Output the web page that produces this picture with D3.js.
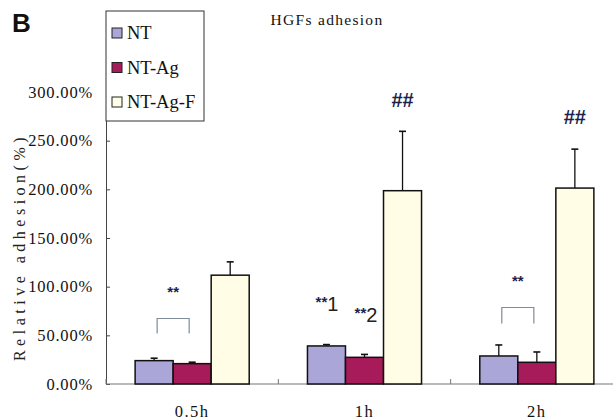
<!DOCTYPE html>
<html lang="en">
<head>
<meta charset="UTF-8">
<script src="https://d3js.org/d3.v7.min.js"></script>
<style>
    body { margin: 0; background: #fff; }
    svg { display: block; }
    .serif { font-family: "Liberation Serif", "DejaVu Serif", serif; }
    .sans { font-family: "Liberation Sans", Arial, sans-serif; }
</style>
<title>HGFs adhesion</title>
</head>
<body>
<div id="chart"></div>
<script>
    // data
    const categories = ["0.5h", "1h", "2h"];
    const seriesNames = ["NT", "NT-Ag", "NT-Ag-F"];
    const seriesColors = ["#aaa6d8", "#a81b5a", "#fffde6"];
    const values = [
        [24.0, 20.9, 111.8],   // 0.5h
        [39.1, 27.4, 198.6],   // 1h
        [28.8, 22.3, 201.3]    // 2h
    ];
    const errors = [
        [2.5, 1.5, 13.7],
        [1.4, 3.0, 61.0],
        [11.3, 10.6, 40.0]
    ];
    const yTicks = [0, 50, 100, 150, 200, 250, 300];

    const width = 613, height = 420;
    const svg = d3.select("#chart").append("svg")
        .attr("width", width)
        .attr("height", height);

    // scales
    const x0 = d3.scaleBand()
        .domain(categories)
        .range([106, 623])
        .paddingInner(0.338)
        .paddingOuter(0.169);

    const x1 = d3.scaleBand()
        .domain(seriesNames)
        .range([0, x0.bandwidth()]);

    const y = d3.scaleLinear()
        .domain([0, 300])
        .range([384, 92]);

    // y axis
    const yAxis = d3.axisLeft(y)
        .tickValues(yTicks)
        .tickSizeInner(-4)
        .tickSizeOuter(0)
        .tickPadding(13)
        .tickFormat(d => d.toFixed(2) + "%");

    const gy = svg.append("g")
        .attr("transform", "translate(106,0)")
        .call(yAxis);
    gy.select(".domain").attr("stroke", "#444");
    gy.selectAll(".tick line").attr("stroke", "#444");
    gy.selectAll(".tick text")
        .attr("class", "serif")
        .attr("font-size", 16.5)
        .attr("letter-spacing", 0.8)
        .attr("fill", "#111");

    // x axis line + boundary ticks
    svg.append("line")
        .attr("x1", 106).attr("x2", 623)
        .attr("y1", y(0)).attr("y2", y(0))
        .attr("stroke", "#777").attr("stroke-width", 1.2);

    const step = x0.step();
    svg.selectAll(".xtick")
        .data(categories)
        .enter().append("line")
        .attr("class", "xtick")
        .attr("x1", d => x0(d) - x0.paddingOuter() * step)
        .attr("x2", d => x0(d) - x0.paddingOuter() * step)
        .attr("y1", y(0)).attr("y2", y(0) - 5)
        .attr("stroke", "#777");

    svg.selectAll(".xlabel")
        .data(categories)
        .enter().append("text")
        .attr("class", "serif")
        .attr("x", d => x0(d) + x0.bandwidth() / 2)
        .attr("y", 417)
        .attr("text-anchor", "middle")
        .attr("font-size", 16.5)
        .attr("letter-spacing", 1.5)
        .attr("fill", "#111")
        .text(d => d);

    // bars
    const group = svg.selectAll(".group")
        .data(categories)
        .enter().append("g")
        .attr("class", "group")
        .attr("transform", d => "translate(" + x0(d) + ",0)");

    group.selectAll("rect")
        .data((d, i) => seriesNames.map((s, j) => ({s: s, j: j, v: values[i][j], e: errors[i][j]})))
        .enter().append("rect")
        .attr("x", d => x1(d.s))
        .attr("y", d => y(d.v))
        .attr("width", x1.bandwidth())
        .attr("height", d => y(0) - y(d.v))
        .attr("fill", d => seriesColors[d.j])
        .attr("stroke", "#111")
        .attr("stroke-width", 1.5);

    // error bars
    const err = group.selectAll(".err")
        .data((d, i) => seriesNames.map((s, j) => ({s: s, v: values[i][j], e: errors[i][j]})))
        .enter().append("g")
        .attr("class", "err");
    err.append("line")
        .attr("x1", d => x1(d.s) + x1.bandwidth() / 2)
        .attr("x2", d => x1(d.s) + x1.bandwidth() / 2)
        .attr("y1", d => y(d.v))
        .attr("y2", d => y(d.v + d.e))
        .attr("stroke", "#111").attr("stroke-width", 1.3);
    err.append("line")
        .attr("x1", d => x1(d.s) + x1.bandwidth() / 2 - 3.5)
        .attr("x2", d => x1(d.s) + x1.bandwidth() / 2 + 3.5)
        .attr("y1", d => y(d.v + d.e))
        .attr("y2", d => y(d.v + d.e))
        .attr("stroke", "#111").attr("stroke-width", 1.6);

    // significance marks
    const navy = "#1d1f4e";
    function bracket(cat, top, legs) {
        const xa = x0(cat) + x1("NT") + x1.bandwidth() / 2 + 3;
        const xb = x0(cat) + x1("NT-Ag") + x1.bandwidth() / 2 - 3;
        svg.append("path")
            .attr("d", "M" + xa + "," + (top + legs) + "V" + top + "H" + xb + "V" + (top + legs))
            .attr("fill", "none")
            .attr("stroke", "#7f8c9c")
            .attr("stroke-width", 1.2);
        svg.append("text")
            .attr("class", "sans")
            .attr("x", (xa + xb) / 2)
            .attr("y", top - 22)
            .attr("text-anchor", "middle")
            .attr("font-size", 15)
            .attr("font-weight", "bold")
            .attr("fill", navy)
            .text("**");
    }
    bracket("0.5h", 318.5, 15);
    bracket("2h", 307.5, 16);

    function hashes(cat, yy) {
        svg.append("text")
            .attr("class", "sans")
            .attr("x", x0(cat) + x1("NT-Ag-F") + x1.bandwidth() / 2)
            .attr("y", yy)
            .attr("text-anchor", "middle")
            .attr("font-size", 20)
            .attr("font-weight", "bold")
            .attr("fill", navy)
            .text("##");
    }
    hashes("1h", 107);
    hashes("2h", 124);

    function numbered(xx, yy, n) {
        const t = svg.append("text")
            .attr("class", "sans")
            .attr("x", xx)
            .attr("y", yy)
            .attr("text-anchor", "middle")
            .attr("fill", navy);
        t.append("tspan").attr("font-size", 15).attr("font-weight", "bold").attr("dy", -4).text("**");
        t.append("tspan").attr("font-size", 20).attr("fill", "#222").attr("dy", 4).text(n);
    }
    numbered(327, 311, "1");
    numbered(366, 322, "2");

    // title
    svg.append("text")
        .attr("class", "serif")
        .attr("x", 327)
        .attr("y", 25)
        .attr("text-anchor", "middle")
        .attr("font-size", 15.5)
        .attr("letter-spacing", 1.3)
        .attr("fill", "#111")
        .text("HGFs adhesion");

    svg.append("text")
        .attr("class", "sans")
        .attr("x", 12)
        .attr("y", 32)
        .attr("font-size", 26)
        .attr("font-weight", "bold")
        .attr("fill", "#111")
        .text("B");

    // y axis title
    svg.append("text")
        .attr("class", "serif")
        .attr("transform", "translate(25,247) rotate(-90)")
        .attr("text-anchor", "middle")
        .attr("font-size", 16)
        .attr("letter-spacing", 4.5)
        .attr("fill", "#222")
        .text("Relative adhesion(%)");

    // legend
    const legend = svg.append("g").attr("transform", "translate(106,11)");
    legend.append("rect")
        .attr("width", 98).attr("height", 110)
        .attr("fill", "#fff")
        .attr("stroke", "#333").attr("stroke-width", 1);
    const li = legend.selectAll(".li")
        .data(seriesNames)
        .enter().append("g")
        .attr("transform", (d, i) => "translate(6," + (22 + i * 34.5) + ")");
    li.append("rect")
        .attr("x", 0).attr("y", -5)
        .attr("width", 10).attr("height", 10)
        .attr("fill", (d, i) => seriesColors[i])
        .attr("stroke", "#222").attr("stroke-width", 1);
    li.append("text")
        .attr("class", "serif")
        .attr("x", 15)
        .attr("y", 6)
        .attr("font-size", 18.5)
        .attr("fill", "#111")
        .text(d => d);
</script>
</body>
</html>
